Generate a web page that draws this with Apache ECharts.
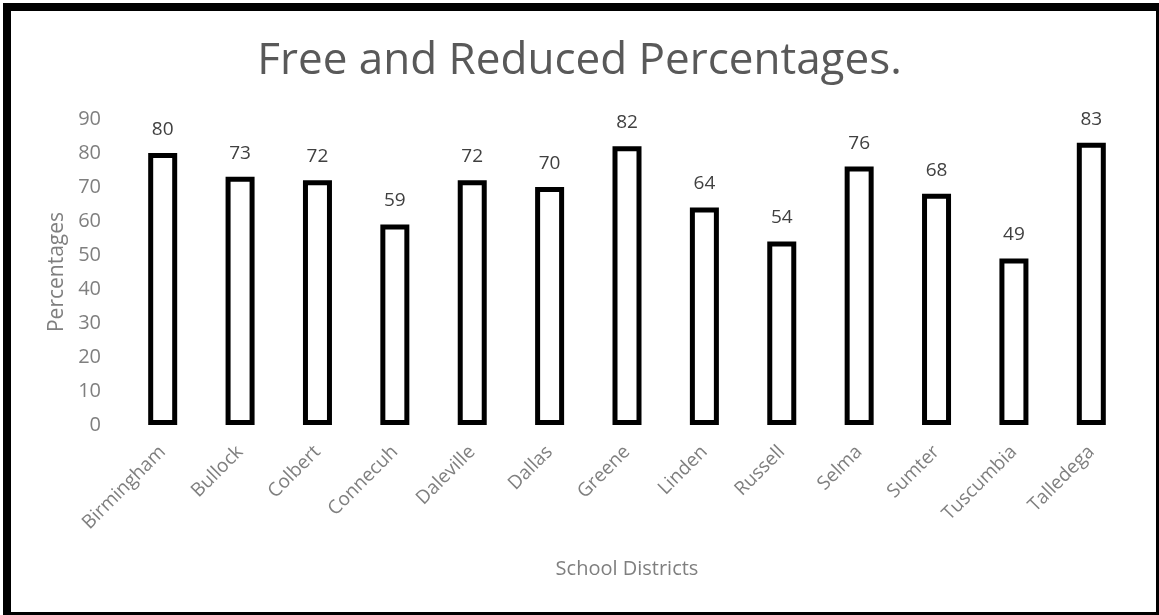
<!DOCTYPE html>
<html>
<head>
<meta charset="utf-8">
<script src="https://cdn.jsdelivr.net/npm/echarts@6/dist/echarts.min.js"></script>
<style>
  html, body { margin: 0; padding: 0; background: #fff; }
  #wrap { position: relative; width: 1159px; height: 615px; overflow: hidden; }
  #chart { position: absolute; left: 0; top: 0; width: 1159px; height: 615px; }
  #frame {
    position: absolute; left: 3px; top: 3px; width: 1161px; height: 617px;
    box-sizing: border-box; border: 8px solid #000; pointer-events: none;
  }
</style>
</head>
<body>
<div id="wrap">
  <div id="chart"></div>
  <div id="frame"></div>
</div>
<script>
// School districts and their free/reduced lunch percentages
const districts = ['Birmingham', 'Bullock', 'Colbert', 'Connecuh', 'Daleville', 'Dallas',
  'Greene', 'Linden', 'Russell', 'Selma', 'Sumter', 'Tuscumbia', 'Talledega'];
const percentages = [80, 73, 72, 59, 72, 70, 82, 64, 54, 76, 68, 49, 83];

const yMin = 0;
const yMax = 90;
const yStep = 10;

const font = '"Open Sans", "Liberation Sans", sans-serif';

const chart = echarts.init(document.getElementById('chart'), null, { renderer: 'canvas' });
chart.setOption({
  animation: false,
  backgroundColor: '#ffffff',
  title: {
    text: 'Free and Reduced Percentages.',
    left: 'center',
    top: 34,
    textStyle: { fontFamily: font, fontSize: 44, fontWeight: 'normal', color: '#595959' }
  },
  grid: { left: 124, right: 29, top: 119, bottom: 190, containLabel: false },
  xAxis: {
    type: 'category',
    data: districts,
    name: 'School Districts',
    nameLocation: 'middle',
    nameGap: 134,
    nameTextStyle: { fontFamily: font, fontSize: 20, color: '#7f7f7f' },
    axisLine: { show: false },
    axisTick: { show: false },
    axisLabel: {
      rotate: 45,
      margin: 24,
      interval: 0,
      fontFamily: font,
      fontSize: 19,
      color: '#7f7f7f'
    }
  },
  yAxis: {
    type: 'value',
    min: yMin,
    max: yMax,
    interval: yStep,
    name: 'Percentages',
    nameLocation: 'middle',
    nameGap: 56,
    nameTextStyle: { fontFamily: font, fontSize: 21, color: '#7f7f7f' },
    axisLine: { show: false },
    axisTick: { show: false },
    splitLine: { show: false },
    axisLabel: { fontFamily: font, fontSize: 20, color: '#7f7f7f', margin: 23 }
  },
  series: [{
    type: 'bar',
    data: percentages,
    barWidth: 29,
    itemStyle: { color: '#ffffff', borderColor: '#000000', borderWidth: 5 },
    label: {
      show: true,
      position: 'top',
      distance: 14,
      fontFamily: font,
      fontSize: 19,
      color: '#404040'
    }
  }]
});
</script>
</body>
</html>
